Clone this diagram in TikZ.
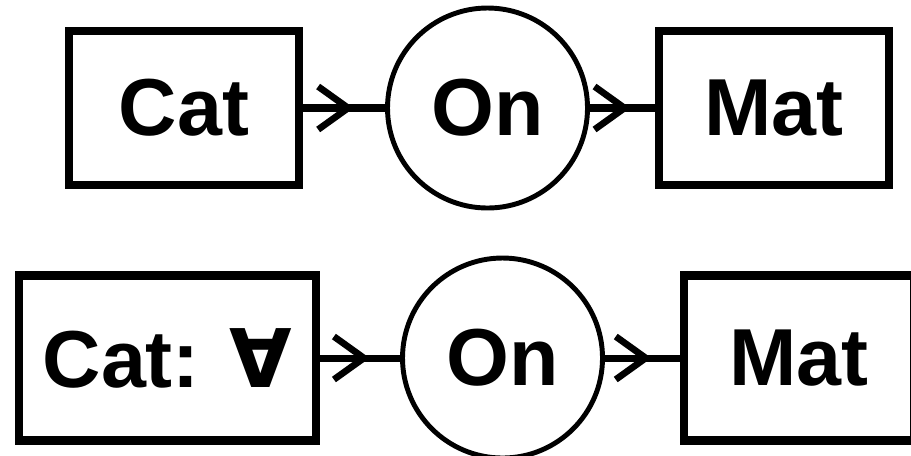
\documentclass[tikz,border=0pt]{standalone}
\usepackage{fontspec}
\setmainfont{Liberation Sans}
\newfontfamily\dejavu{DejaVu Sans}
\usetikzlibrary{positioning,arrows.meta,decorations.markings}

\begin{document}
\begin{tikzpicture}[
     x = 1mm, y = 1mm, % units as in the sketch
     font = \fontsize{23}{28}\selectfont\bfseries,
     node distance = 8mm % distance between nodes
 ]

 \tikzstyle{concept}=[
     draw = black,
     line width = 2.3pt,
     rectangle,
     minimum width = 23mm,
     minimum height = 15.4mm
 ]
 \tikzstyle{relation}=[
     draw = black,
     line width = 1.4pt,
     circle,
     inner sep = 0pt,
     minimum size = 20mm
 ]
 \tikzstyle{link}=[
     line width = 2pt,
     postaction = {decorate},
     decoration = {markings,
       mark = at position 0.62 with
         {\arrow{Straight Barb[length=3mm, width=4.3mm, line width=1.9pt]}}}
 ]

 \useasboundingbox (0,0) rectangle (91.1,45.5);

 % plain concept
 \node[concept] (cat1) at (18.4,34.7) {Cat};
 \node[relation] (on1) [right=8.2mm of cat1] {On};
 \node[concept] (mat1) [right=6.5mm of on1] {Mat};

 \draw[link] (cat1) -- (on1);
 \draw[link] (on1) -- (mat1);

 % universally quantified concept
 \node[concept, minimum width=29.7mm, minimum height=16.5mm] (cat2) at (16.75,9.7) {Cat: {\dejavu ∀}};
 \node[relation] (on2) [right=8mm of cat2] {On};
 \node[concept, minimum height=16.5mm] (mat2) [right=7.5mm of on2] {Mat};

 \draw[link] (cat2) -- (on2);
 \draw[link] (on2) -- (mat2);
\end{tikzpicture}
\end{document}
